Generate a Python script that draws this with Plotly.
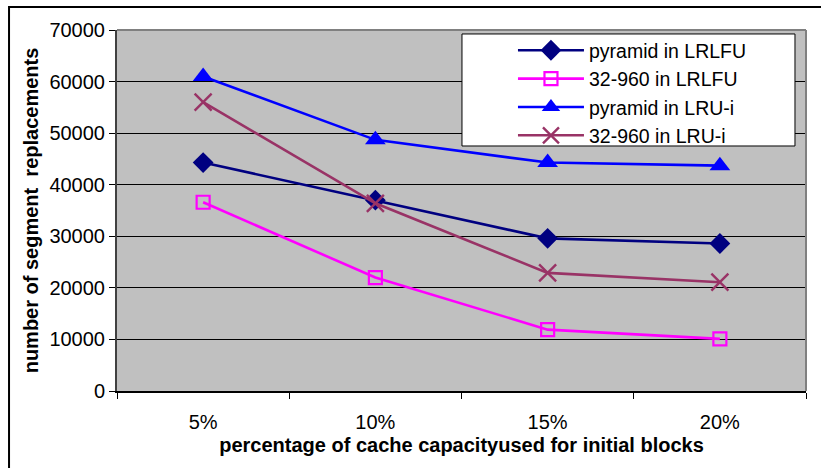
import plotly.graph_objects as go

# Cache-capacity share used for initial blocks
categories = ["5%", "10%", "15%", "20%"]

# Segment replacements per policy / video
pyramid_lrlfu = [44300, 37000, 29600, 28600]
v32_960_lrlfu = [36600, 22000, 11900, 10100]
pyramid_lrui = [61000, 48700, 44300, 43700]
v32_960_lrui = [56000, 36400, 22900, 21100]

y_ticks = [0, 10000, 20000, 30000, 40000, 50000, 60000, 70000]

series = [
    ("pyramid in LRLFU", pyramid_lrlfu, "#000080",
     dict(symbol="diamond", size=16)),
    ("32-960 in LRLFU", v32_960_lrlfu, "#FF00FF",
     dict(symbol="square-open", size=13, line=dict(width=2.2, color="#FF00FF"))),
    ("pyramid in LRU-i", pyramid_lrui, "#0000FF",
     dict(symbol="triangle-up", size=18)),
    ("32-960 in LRU-i", v32_960_lrui, "#993366",
     dict(symbol="x-thin-open", size=17, line=dict(width=2.4, color="#993366"))),
]

fig = go.Figure()
for name, vals, color, marker in series:
    fig.add_trace(go.Scatter(
        x=categories, y=vals, name=name, mode="lines+markers",
        line=dict(color=color, width=2.6),
        marker=dict(color=color, **marker),
    ))

font_family = "Liberation Sans, Arial, sans-serif"

fig.update_layout(
    width=821, height=468,
    margin=dict(l=117, r=15, t=30, b=77),
    paper_bgcolor="white",
    plot_bgcolor="#C0C0C0",
    font=dict(family=font_family, size=20, color="black"),
    showlegend=True,
    legend=dict(
        x=0.5747, y=0.997, xanchor="left", yanchor="top",
        bgcolor="rgba(0,0,0,0)", borderwidth=0,
        font=dict(size=19.5), tracegroupgap=0, itemwidth=66,
    ),
    xaxis=dict(
        type="category",
        tickson="boundaries", ticks="outside", ticklen=6, tickcolor="black",
        showline=True, linecolor="black", linewidth=2,
        showgrid=False, range=[-0.5, 3.5],
        ticklabelstandoff=12,
        title=dict(text="<b>percentage of cache capacityused for initial blocks</b>",
                   font=dict(size=20), standoff=6),
    ),
    yaxis=dict(
        range=[0, 70000], tickvals=y_ticks,
        ticktext=[str(v) for v in y_ticks],
        ticks="outside", ticklen=6, tickcolor="black",
        showline=True, linecolor="#404040", linewidth=2,
        showgrid=True, gridcolor="black", gridwidth=1,
        zeroline=False,
        title=dict(text="<b>number of segment  replacements</b>",
                   font=dict(size=20), standoff=5),
    ),
)

# Plot-area frame on the top and right edges
fig.add_shape(type="line", xref="paper", yref="paper", x0=0, x1=1, y0=1, y1=1,
              line=dict(color="#808080", width=2))
fig.add_shape(type="line", xref="paper", yref="paper", x0=1, x1=1, y0=0, y1=1,
              line=dict(color="#808080", width=2))

# Legend box (white panel with black outline behind the legend entries)
fig.add_shape(type="rect", xref="paper", yref="paper",
              x0=0.5007, x1=0.984, y0=0.6787, y1=0.989,
              fillcolor="white", line=dict(color="black", width=1), layer="above")

# Outer chart border
fig.add_shape(type="rect", xref="paper", yref="paper",
              x0=-0.1567, x1=1.07, y0=-0.25, y1=1.0637,
              line=dict(color="black", width=2), layer="below")

fig.write_html("out.html")
